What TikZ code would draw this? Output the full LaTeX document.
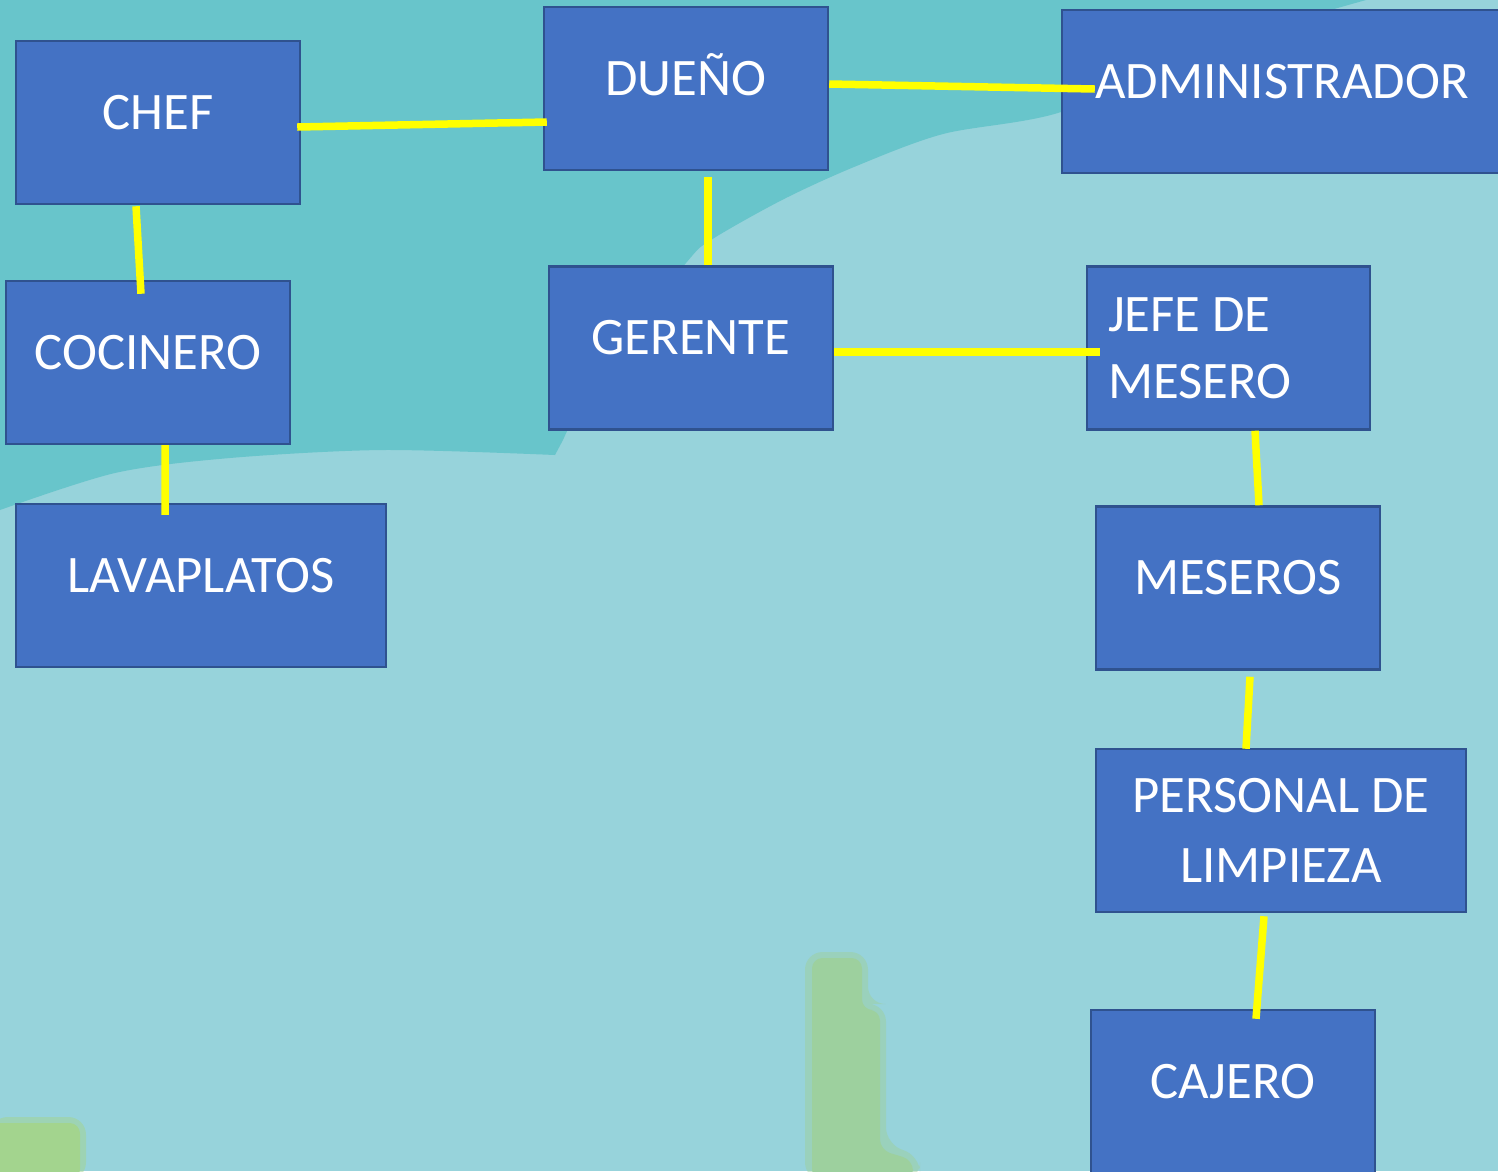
\documentclass[tikz,border=0pt]{standalone}
\usepackage{fontspec}
\setmainfont{Carlito}
\usepackage{xcolor}

\definecolor{fondoclaro}{HTML}{97D3DB}
\definecolor{fondooscuro}{HTML}{68C5CB}
\definecolor{verde}{HTML}{9DD09E}
\definecolor{verdeclaro}{HTML}{A3D48E}
\definecolor{azul}{HTML}{4472C4}
\definecolor{borde}{HTML}{2F528F}
\definecolor{amarillo}{HTML}{FFFF00}

\tikzset{
    puesto/.style={rectangle, draw=borde, line width=0.7pt, fill=azul, text=white,
        font=\fontsize{15}{19}\selectfont, inner sep=0pt,
        minimum width=2.84cm, minimum height=1.63cm},
    unalinea/.style={text height=0.45cm, text depth=0.32cm},
    enlace/.style={draw=amarillo, line width=0.075cm},
}

\begin{document}
\begin{tikzpicture}

    \useasboundingbox (0,0) rectangle (14.98,-11.71);
    \clip (0,0) rectangle (14.98,-11.71);

    %background
    \fill [fondoclaro] (0,0) rectangle (14.98,-11.71);
    \fill [fondooscuro] (0,0) -- (13.66,0)
        -- plot [smooth] coordinates {(13.66,0) (12.0,-0.5) (10.61,-1.12) (9.43,-1.34) (8.54,-1.67)
            (7.82,-2.0) (7.11,-2.40) (6.86,-2.63) (6.0,-3.7) (5.63,-4.40)}
        -- (5.55,-4.55)
        -- plot [smooth] coordinates {(5.55,-4.55) (3.83,-4.50) (2.30,-4.58) (1.15,-4.73) (0,-5.10)}
        -- cycle;
    \fill [verde, opacity=0.5, rounded corners=5pt] (8.05,-9.52) -- (8.68,-9.52) -- (8.68,-10.04) -- (8.86,-10.04)
        -- (8.86,-11.45) -- (9.20,-11.55) -- (9.20,-11.80) -- (8.05,-11.80) -- cycle;
    \fill [verde, rounded corners=3pt] (8.12,-9.58) -- (8.62,-9.58) -- (8.62,-10.10) -- (8.80,-10.10)
        -- (8.80,-11.50) -- (9.13,-11.60) -- (9.13,-11.80) -- (8.12,-11.80) -- cycle;
    \fill [verdeclaro, opacity=0.5, rounded corners=5pt] (-0.1,-11.17) -- (0.86,-11.17) -- (0.86,-11.80) -- (-0.1,-11.80) -- cycle;
    \fill [verdeclaro, rounded corners=3pt] (-0.1,-11.23) -- (0.80,-11.23) -- (0.80,-11.80) -- (-0.1,-11.80) -- cycle;

    %nodes
    \node [puesto, unalinea] (dueno) at (6.86,-0.885) {DUEÑO};
    \node [puesto, unalinea] (chef) at (1.58,-1.225) {CHEF};
    \node [puesto, unalinea, minimum width=4.40cm] (admin) at (12.82,-0.915) {ADMINISTRADOR};
    \node [puesto, unalinea] (cocinero) at (1.48,-3.625) {COCINERO};
    \node [puesto, unalinea] (gerente) at (6.91,-3.48) {GERENTE};
    \node [puesto, align=flush left, text width=2.41cm, minimum width=2.83cm] (jefe) at (12.285,-3.48) {JEFE DE\\MESERO};
    \node [puesto, unalinea, minimum width=3.70cm] (lavaplatos) at (2.01,-5.855) {LAVAPLATOS};
    \node [puesto, unalinea] (meseros) at (12.38,-5.88) {MESEROS};
    \node [puesto, align=center, minimum width=3.70cm] (limpieza) at (12.81,-8.305) {PERSONAL DE\\[1pt]LIMPIEZA};
    \node [puesto, unalinea] (cajero) at (12.33,-10.915) {CAJERO};

    %lines
    \draw [enlace] ([shift={(-0.04,-0.045)}]chef.east) -- ([shift={(0.04,-0.335)}]dueno.west);
    \draw [enlace] ([shift={(0,0.045)}]dueno.east) -- ([shift={(0.34,0.025)}]admin.west);
    \draw [enlace] ([shift={(-0.22,-0.01)}]chef.south) -- ([shift={(-0.07,-0.14)}]cocinero.north);
    \draw [enlace] ([xshift=0.17cm]cocinero.south) -- ([shift={(-0.36,-0.12)}]lavaplatos.north);
    \draw [enlace] ([shift={(0.22,-0.06)}]dueno.south) -- ([xshift=0.17cm]gerente.north);
    \draw [enlace] ([yshift=-0.04cm]gerente.east) -- ([shift={(0.14,-0.04)}]jefe.west);
    \draw [enlace] ([xshift=0.265cm]jefe.south) -- ([xshift=0.21cm]meseros.north);
    \draw [enlace] ([shift={(0.12,-0.06)}]meseros.south) -- ([shift={(-0.35,-0.01)}]limpieza.north);
    \draw [enlace] ([shift={(-0.17,-0.03)}]limpieza.south) -- ([shift={(0.23,-0.10)}]cajero.north);

\end{tikzpicture}
\end{document}
